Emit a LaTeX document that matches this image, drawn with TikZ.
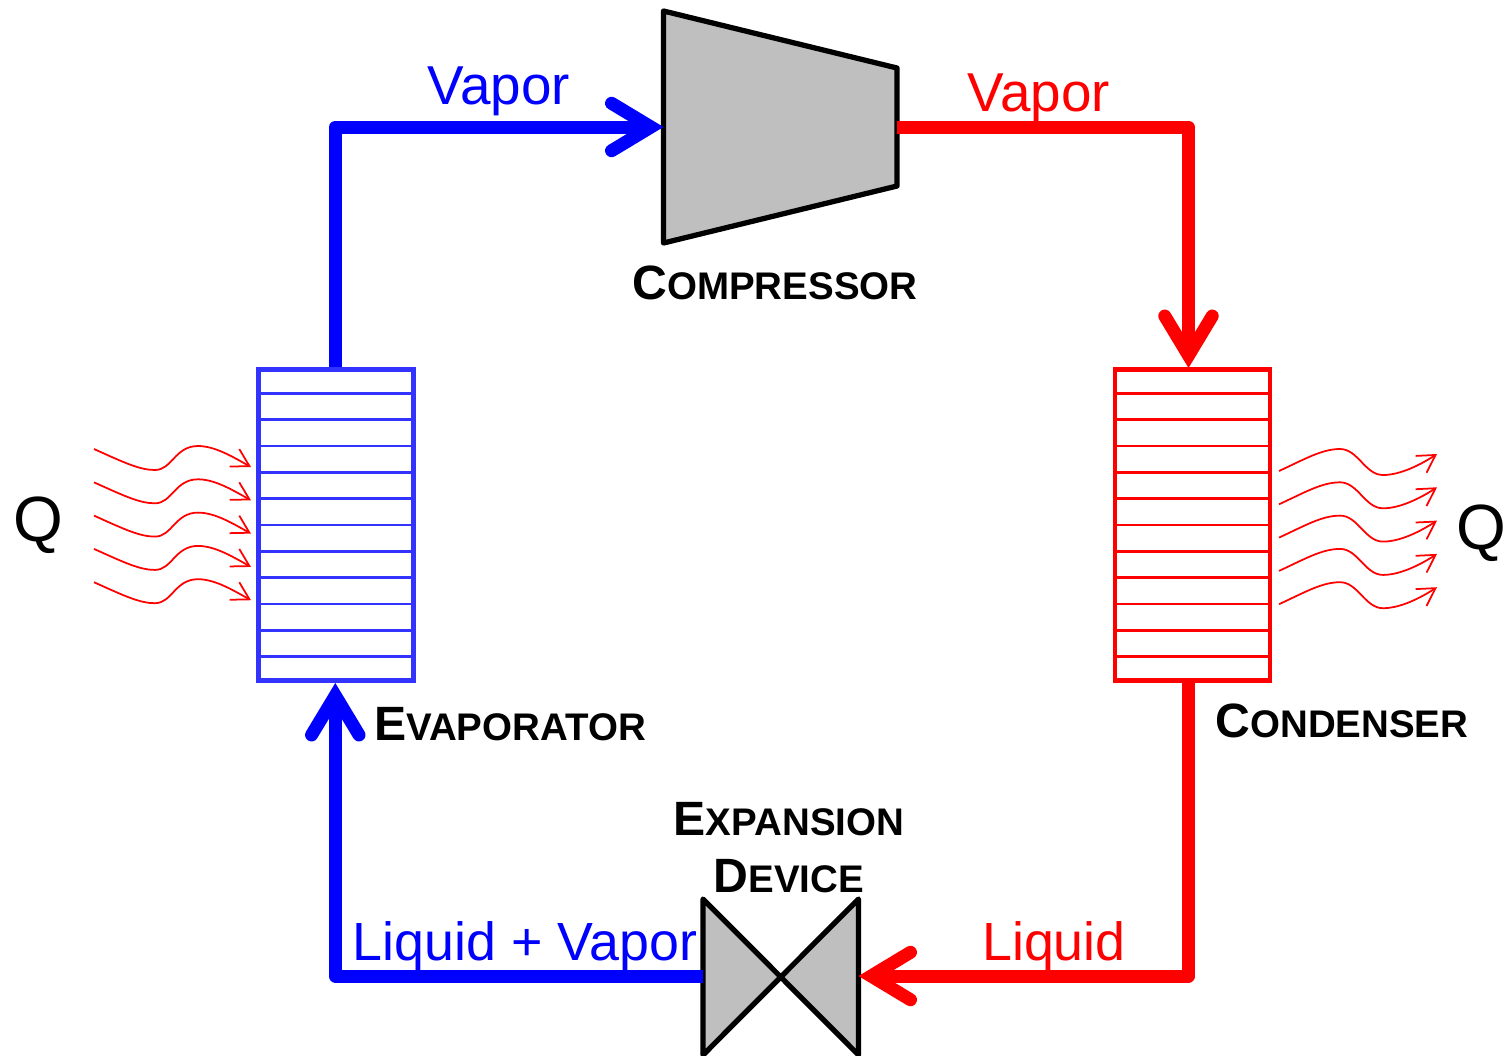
\documentclass[tikz,border=0pt]{standalone}
\usepackage{fontspec}
\setmainfont{Liberation Sans}
\usepackage{xcolor}
\usepackage{tikz}
\usetikzlibrary{arrows.meta, calc}

\definecolor{evapblue}{RGB}{51,51,255}
\definecolor{devgray}{RGB}{191,191,191}

\newcommand{\capslabel}[2]{\bfseries{\fontsize{13.7}{16}\selectfont #1}{\fontsize{10.95}{16}\selectfont #2}}

\tikzset{
	flowline/.style={line width=3.7pt, line join=round, -{Straight Barb[length=11.2pt, width=13.5pt, line cap=round, line join=miter]}},
	device/.style={draw=black, fill=devgray, line width=1.5pt, line join=round},
	exchanger/.style={draw=#1, line width=1.4pt, minimum width=1.55cm, minimum height=3.11cm, inner sep=0pt},
	rowline/.style={line width=0.7pt},
	heatflow/.style={draw=red, line width=0.5pt, -{Straight Barb[length=4.9pt, width=5.7pt]}},
	flowtext/.style={font=\fontsize{15.6}{18}\selectfont, anchor=base},
	liquidtext/.style={font=\fontsize{15.3}{18}\selectfont, anchor=base},
	heattext/.style={font=\fontsize{18.2}{20}\selectfont},
	partname/.style={anchor=base}
}

\begin{document}
\begin{tikzpicture}
	\useasboundingbox (0, 0) rectangle (15.05, 10.55);
	% Compressor and expansion device:
	\coordinate (compressorA) at (6.635, 10.44);
	\coordinate (compressorB) at (8.97, 9.87);
	\coordinate (compressorC) at (8.97, 8.69);
	\coordinate (compressorD) at (6.635, 8.12);
	\draw[device] (compressorA) -- (compressorB) -- (compressorC) -- (compressorD) -- cycle;
	\coordinate (valveA) at (7.03, 1.56);
	\coordinate (valveB) at (8.585, 0.0);
	\coordinate (valveC) at (8.585, 1.56);
	\coordinate (valveD) at (7.03, 0.0);
	\draw[device] (valveA) -- (valveB) -- (valveC) -- (valveD) -- cycle;
	% Heat exchangers:
	\node[exchanger=evapblue](evaporator) at (3.36, 5.30){};
	\node[exchanger=red](condenser) at (11.925, 5.30){};
	\foreach \k in {1,...,11}{
		\draw[rowline, evapblue] ($(evaporator.north west)!\k/12!(evaporator.south west)$) -- ($(evaporator.north east)!\k/12!(evaporator.south east)$);
		\draw[rowline, red] ($(condenser.north west)!\k/12!(condenser.south west)$) -- ($(condenser.north east)!\k/12!(condenser.south east)$);
	}
	% Paths:
	\coordinate (compIn) at (6.635, 9.28);
	\coordinate (compOut) at (8.97, 9.28);
	\coordinate (valveIn) at (8.585, 0.79);
	\coordinate (valveOut) at (7.03, 0.79);
	\coordinate (condTop) at (11.885, 6.87);
	\coordinate (condBottom) at (11.885, 3.73);
	\draw[flowline, blue] ([xshift=-0.2pt]evaporator.north) |- (compIn);
	\draw[flowline, red] (compOut) -| (condTop);
	\draw[flowline, red] (condBottom) |- (valveIn);
	\draw[flowline, blue] (valveOut) -| ([xshift=-0.2pt]evaporator.south);
	% Heat in and out:
	\foreach \i in {0,...,4}{
		\draw[heatflow, shift={(0, -\i*0.333)}] (0.94, 6.06) .. controls (1.25, 5.92) and (1.40, 5.85) .. (1.55, 5.85) .. controls (1.72, 5.85) and (1.75, 6.09) .. (1.98, 6.09) .. controls (2.15, 6.09) and (2.33, 5.98) .. (2.51, 5.88);
		\draw[heatflow, shift={(0, -\i*0.333)}] (12.79, 5.84) .. controls (13.05, 5.96) and (13.22, 6.06) .. (13.40, 6.06) .. controls (13.58, 6.06) and (13.65, 5.80) .. (13.83, 5.80) .. controls (14.00, 5.80) and (14.20, 5.90) .. (14.37, 6.01);
	}
	\node[heattext](heatIn) at (0.38, 5.30){Q};
	\node[heattext](heatOut) at (14.81, 5.22){Q};
	% Labels:
	\node[flowtext, blue](vaporIn) at (4.99, 9.51){Vapor};
	\node[flowtext, red](vaporOut) at (10.39, 9.44){Vapor};
	\node[liquidtext, blue](mixture) at (5.25, 0.95){Liquid + Vapor};
	\node[liquidtext, red](liquid) at (10.54, 0.95){Liquid};
	\node[partname](compressor) at (7.75, 7.56){\capslabel{C}{OMPRESSOR}};
	\node[partname](evapname) at (5.10, 3.15){\capslabel{E}{VAPORATOR}};
	\node[partname](condname) at (13.42, 3.18){\capslabel{C}{ONDENSER}};
	\node[partname](expansion) at (7.89, 2.20){\capslabel{E}{XPANSION}};
	\node[partname](devicename) at (7.89, 1.63){\capslabel{D}{EVICE}};
\end{tikzpicture}
\end{document}
